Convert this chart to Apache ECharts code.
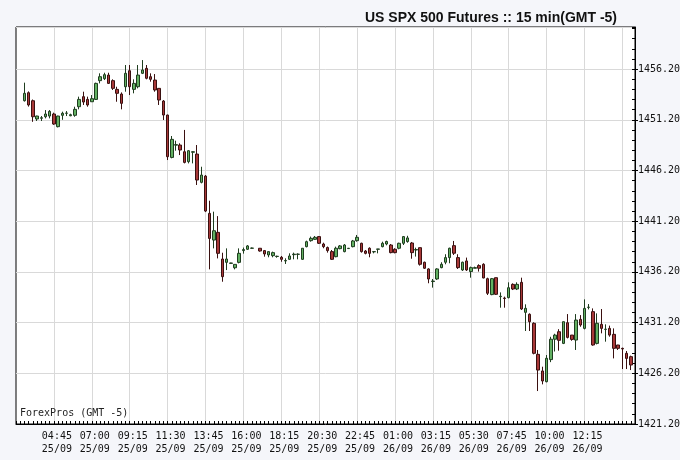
<!DOCTYPE html>
<html><head><meta charset="utf-8">
<script src="https://cdn.jsdelivr.net/npm/echarts@6/dist/echarts.min.js"></script>
<style>html,body{margin:0;padding:0;background:#f5f6fa}#c{width:680px;height:460px}</style>
</head><body><div id="c"></div>
<script>
const titleText = 'US SPX 500 Futures :: 15 min(GMT -5)';
const noteText = 'ForexPros (GMT -5)';
const tickLabels = ['04:45\n25/09','07:00\n25/09','09:15\n25/09','11:30\n25/09','13:45\n25/09','16:00\n25/09','18:15\n25/09','20:30\n25/09','22:45\n25/09','01:00\n26/09','03:15\n26/09','05:30\n26/09','07:45\n26/09','10:00\n26/09','12:15\n26/09'];
const gridTimes = tickLabels.concat(['14:30\n26/09']);
const yMin = 1421.2, yMax = 1460.35, yStep = 5, yMinorStep = 1;
// 15-min bars from 03:00 25/09 to 15:00 26/09 (null = no trade)
const opens = [1453.08,1453.87,1453.08,1451.28,1451.35,1451.5,1451.57,1451.77,1450.52,1451.64,1451.84,1451.6,1451.64,1452.49,1453.48,1453.21,1452.98,1453.21,1455.06,1455.25,1455.61,1455.06,1454.2,1453.74,1454.46,1456.04,1454.2,1454.46,1455.78,1456.27,1455.45,1455.12,1454.3,1453.05,1451.67,1447.49,1448.7,1448.71,1448.05,1447.07,1448.0,1447.82,1445.03,1445.65,1441.97,1439.34,1440.1,1437.47,1437.14,1437.04,1436.61,1437.14,1438.3,1438.43,1438.53,null,1438.53,1438.3,1437.87,1437.8,1437.72,1437.64,1437.28,1437.44,1437.9,1437.93,1437.44,1438.69,1439.28,1439.41,1439.68,1438.95,1438.6,1438.2,1437.7,1438.49,1438.2,1438.5,1438.69,1439.28,1439.02,1438.26,1438.53,1438.18,1438.43,1438.69,1438.95,1438.85,1438.43,1438.53,1439.02,1439.19,1439.05,1438.36,1438.59,1437.15,1436.49,1435.25,1435.5,1436.62,1437.15,1437.61,1438.79,1437.61,1436.39,1437.28,1436.23,1436.56,1436.82,1436.95,1435.53,1433.96,1435.63,1433.76,1433.62,1433.66,1434.97,1434.51,1435.17,1432.21,1432.02,1431.13,1428.07,1426.43,1425.37,1427.55,1429.56,1430.3,1429.15,1431.19,1429.97,1429.48,1431.52,1430.63,1432.7,1432.28,1429.15,1431.03,1430.53,1430.63,1430.04,1428.99,1428.66,1428.17,1427.84];
const closes = [1453.81,1452.66,1451.5,1451.57,1451.4,1451.77,1452.03,1450.78,1451.57,1451.84,1451.86,1451.7,1452.23,1453.21,1452.95,1452.66,1453.28,1454.79,1455.45,1455.65,1454.79,1454.3,1453.81,1452.82,1455.78,1454.46,1454.79,1455.61,1456.11,1455.29,1455.19,1454.14,1453.15,1451.67,1447.56,1449.27,1448.75,1448.22,1447.0,1448.15,1448.05,1445.26,1445.75,1442.2,1439.5,1440.26,1438.03,1435.73,1437.47,1437.08,1436.94,1438.03,1438.4,1438.76,1438.55,null,1438.26,1437.97,1438.2,1438.1,1437.74,1437.44,1437.32,1437.77,1437.95,1437.95,1438.53,1439.18,1439.51,1439.61,1439.02,1438.69,1438.3,1437.44,1438.53,1438.76,1438.85,1438.53,1439.25,1439.61,1438.2,1438.03,1438.03,1438.2,1438.46,1439.02,1439.2,1438.1,1438.1,1439.02,1439.68,1439.55,1438.1,1438.4,1436.95,1436.56,1435.5,1435.3,1436.49,1436.95,1437.61,1438.53,1438.04,1436.62,1437.15,1436.39,1436.62,1436.62,1436.56,1435.6,1434.09,1435.53,1433.99,1433.8,1433.58,1434.64,1434.51,1434.97,1432.54,1432.61,1431.29,1428.17,1426.52,1425.44,1427.68,1429.56,1429.97,1429.45,1431.29,1429.74,1429.54,1431.45,1430.96,1432.6,1432.72,1428.99,1431.13,1430.63,1430.55,1429.97,1428.66,1428.66,1428.6,1427.67,1427.02];
const lows = [1453.0,1452.5,1451.0,1451.08,1451.08,1451.34,1451.34,1450.7,1450.45,1451.2,1451.57,1451.55,1451.5,1452.23,1452.66,1452.49,1452.98,1453.15,1454.79,1455.12,1454.73,1454.14,1452.98,1452.23,1453.97,1453.64,1453.81,1454.3,1455.71,1455.19,1454.96,1453.97,1452.66,1451.18,1447.23,1447.4,1448.15,1447.72,1446.9,1446.9,1446.9,1444.77,1444.93,1442.1,1436.45,1438.52,1437.53,1435.23,1436.38,1437.0,1436.45,1437.04,1438.0,1438.36,1438.5,null,1438.2,1437.7,1437.64,1437.64,1437.6,1437.2,1436.98,1437.38,1437.44,1437.44,1437.38,1438.62,1439.18,1439.35,1438.95,1438.53,1438.1,1437.38,1437.64,1438.43,1438.13,1438.5,1438.62,1439.18,1438.1,1437.93,1437.64,1438.03,1438.03,1438.62,1438.82,1438.03,1438.03,1438.43,1438.85,1439.08,1437.5,1437.71,1436.82,1436.49,1435.08,1434.65,1435.41,1436.56,1436.95,1437.05,1437.87,1436.49,1436.29,1436.29,1435.63,1436.56,1436.23,1435.57,1433.92,1433.9,1433.92,1432.67,1432.67,1433.59,1434.41,1434.41,1432.44,1430.37,1430.37,1428.07,1424.45,1425.11,1425.31,1427.3,1428.35,1428.43,1429.08,1429.64,1429.41,1428.5,1430.79,1430.53,1432.5,1428.92,1429.05,1430.14,1429.32,1429.81,1427.67,1428.5,1426.62,1426.62,1426.52];
const highs = [1454.86,1454.0,1453.2,1451.6,1451.57,1452.16,1452.16,1451.9,1451.6,1452.0,1452.06,1451.8,1452.49,1453.48,1453.97,1453.48,1453.64,1454.86,1455.78,1455.84,1455.84,1455.19,1454.46,1453.9,1456.6,1456.6,1455.19,1456.6,1457.09,1456.6,1455.78,1455.71,1454.3,1453.15,1451.7,1449.6,1449.14,1448.88,1450.2,1448.22,1448.1,1448.71,1446.57,1445.75,1443.22,1442.14,1441.7,1438.09,1438.52,1437.1,1436.94,1438.52,1438.6,1438.85,1438.6,null,1438.53,1438.36,1438.2,1438.2,1437.8,1437.77,1437.54,1438.03,1438.1,1438.03,1438.53,1439.28,1439.68,1439.74,1439.74,1439.08,1438.7,1438.36,1438.69,1438.85,1438.95,1438.56,1439.35,1439.84,1439.08,1438.36,1438.62,1438.2,1438.46,1439.18,1439.28,1438.95,1438.53,1439.08,1439.74,1439.76,1439.15,1438.59,1438.59,1437.21,1436.56,1435.5,1436.56,1437.15,1437.94,1438.59,1439.25,1437.94,1437.21,1437.61,1436.72,1436.72,1436.95,1437.05,1435.63,1435.6,1435.63,1434.18,1433.76,1435.17,1435.07,1435.17,1435.63,1433.0,1432.11,1431.23,1428.5,1426.85,1428.0,1429.8,1430.1,1430.55,1431.29,1432.04,1429.97,1432.04,1431.94,1433.49,1433.03,1432.6,1432.11,1432.54,1431.03,1430.9,1430.63,1429.0,1428.73,1428.4,1427.94];

// time axis: two empty 15-min slots before the first bar and one after the last
const padBefore = 2, padAfter = 1;
const startMinutes = 3 * 60 - padBefore * 15, startDay = 25;
const categories = [];
for (let k = 0; k < opens.length + padBefore + padAfter; k++) {
  const t = startMinutes + 15 * k;
  const day = startDay + Math.floor(t / 1440);
  const m = t % 1440;
  const hh = String(Math.floor(m / 60)).padStart(2, '0');
  const mm = String(m % 60).padStart(2, '0');
  categories.push(hh + ':' + mm + '\n' + day + '/09');
}
const empty = ['-', '-', '-', '-'];
const candles = [];
for (let k = 0; k < padBefore; k++) candles.push(empty);
for (let i = 0; i < opens.length; i++) {
  candles.push(opens[i] == null ? empty : [opens[i], closes[i], lows[i], highs[i]]);
}
for (let k = 0; k < padAfter; k++) candles.push(empty);

const mono = "'DejaVu Sans Mono', monospace";
const chart = echarts.init(document.getElementById('c'), null, {renderer: 'canvas'});
chart.setOption({
  animation: false,
  backgroundColor: '#f5f6fa',
  title: [
    {text: titleText, right: 63, top: 11, padding: 0,
     textStyle: {fontFamily: "'Liberation Sans', Arial, sans-serif", fontWeight: 'bold', fontSize: 14, lineHeight: 14, color: '#111'}},
    {text: noteText, left: 20, top: 407, padding: 0,
     textStyle: {fontFamily: mono, fontWeight: 'normal', fontSize: 10, lineHeight: 12, color: '#222'}}
  ],
  grid: {left: 16, right: 45, top: 27, bottom: 36, show: true, backgroundColor: '#ffffff',
         borderColor: '#000', borderWidth: 1, containLabel: false, outerBoundsMode: 'none'},
  xAxis: [{
    type: 'category', data: categories, boundaryGap: false,
    axisLine: {show: true, lineStyle: {color: '#000', width: 1}},
    axisTick: {show: true, inside: true, length: 3, interval: 0, lineStyle: {color: '#000', width: 1}},
    axisLabel: {show: true, interval: (i, v) => tickLabels.indexOf(v) >= 0,
      showMinLabel: true, showMaxLabel: true, hideOverlap: false,
      fontFamily: mono, fontSize: 10, lineHeight: 13, color: '#111', margin: 6, padding: [0, 0, 0, 6]},
    splitLine: {show: true, interval: (i, v) => gridTimes.indexOf(v) >= 0, lineStyle: {color: '#d9d9d9', width: 1}}
  }],
  yAxis: [{
    type: 'value', position: 'right', min: yMin, max: yMax, interval: yStep, scale: true,
    axisLine: {show: true, lineStyle: {color: '#000', width: 1}},
    axisTick: {show: true, inside: false, length: 3, lineStyle: {color: '#000'}},
    axisLabel: {show: true, formatter: v => v.toFixed(2), showMaxLabel: false, showMinLabel: true,
      fontFamily: mono, fontSize: 10, color: '#111', margin: 3},
    splitLine: {show: true, lineStyle: {color: '#d9d9d9', width: 1}}
  }, {
    type: 'value', position: 'right', min: yMin, max: yMax, interval: yMinorStep, scale: true,
    axisLine: {show: false},
    axisTick: {show: true, inside: true, length: 3, lineStyle: {color: '#000'}},
    axisLabel: {show: false},
    splitLine: {show: false}
  }],
  series: [{
    type: 'candlestick', data: candles, xAxisIndex: 0, yAxisIndex: 0, barWidth: 3,
    itemStyle: {color: '#62b062', color0: '#a83838', borderColor: '#1f3d1f', borderColor0: '#3a1010', borderWidth: 1}
  }]
});
</script></body></html>
